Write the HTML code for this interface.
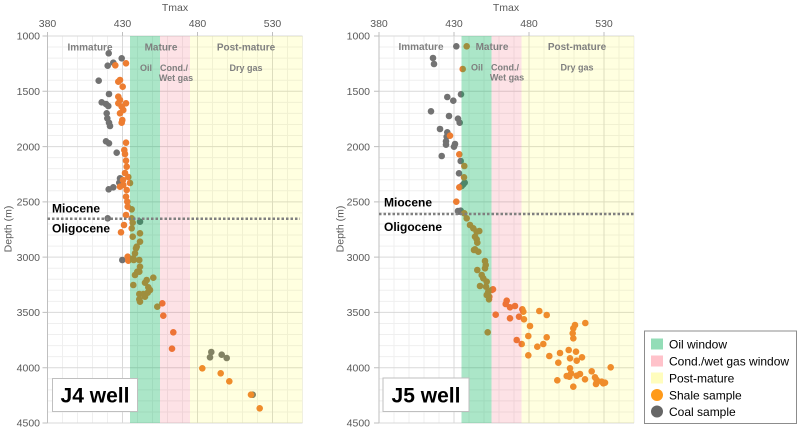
<!DOCTYPE html>
<html>
<head>
<meta charset="utf-8">
<style>
html,body{margin:0;padding:0;background:#fff;}
svg{display:block;font-family:"Liberation Sans",sans-serif;}
.tk{font-size:10.5px;fill:#595959;}
.hd{font-size:10px;font-weight:bold;fill:#7f7f7f;}
.sb{font-size:9px;font-weight:bold;fill:#7f7f7f;}
.ep{font-size:12px;font-weight:bold;fill:#000;}
.wl{font-size:21px;font-weight:bold;fill:#000;}
.lg{font-size:12px;fill:#000;}
</style>
</head>
<body>
<svg width="800" height="428" viewBox="0 0 800 428" xmlns="http://www.w3.org/2000/svg">
<defs>
<g id="grid">
<path d="M15 0V387M30 0V387M45 0V387M60 0V387M90 0V387M105 0V387M120 0V387M135 0V387M165 0V387M180 0V387M195 0V387M210 0V387M240 0V387M255 0V387
M0 11.06H255M0 22.11H255M0 33.17H255M0 44.23H255M0 66.34H255M0 77.4H255M0 88.46H255M0 99.51H255M0 121.63H255M0 132.68H255M0 143.74H255M0 154.8H255M0 176.91H255M0 187.97H255M0 199.03H255M0 210.08H255M0 232.2H255M0 243.25H255M0 254.31H255M0 265.37H255M0 287.48H255M0 298.54H255M0 309.6H255M0 320.65H255M0 342.77H255M0 353.82H255M0 364.88H255M0 375.94H255" stroke="#efefef" stroke-width="1" fill="none"/>
<path d="M75 0V387M150 0V387M225 0V387M0 0H255M0 55.29H255M0 110.57H255M0 165.86H255M0 221.14H255M0 276.43H255M0 331.71H255M0 387H255" stroke="#d9d9d9" stroke-width="1" fill="none"/>
<path d="M0 0V387" stroke="#bfbfbf" stroke-width="1"/>
<path d="M-5 0H0M-5 55.29H0M-5 110.57H0M-5 165.86H0M-5 221.14H0M-5 276.43H0M-5 331.71H0M-5 387H0M0 -4V0M75 -4V0M150 -4V0M225 -4V0" stroke="#bfbfbf" stroke-width="1"/>
</g>
</defs>
<rect width="800" height="428" fill="#fff"/>

<!-- LEFT CHART -->
<use href="#grid" x="47.5" y="36"/>
<g fill="#727272">
<circle cx="108.7" cy="53.3" r="3.3"/><circle cx="121.7" cy="58.3" r="3.3"/><circle cx="107.7" cy="65.7" r="3.3"/><circle cx="113.3" cy="62.7" r="3.3"/><circle cx="98.7" cy="80.7" r="3.3"/><circle cx="109" cy="94" r="3.3"/><circle cx="101.7" cy="102.3" r="3.3"/><circle cx="106" cy="104" r="3.3"/><circle cx="108.3" cy="106" r="3.3"/><circle cx="106.7" cy="113.3" r="3.3"/><circle cx="107.3" cy="118.3" r="3.3"/><circle cx="109" cy="122.7" r="3.3"/><circle cx="110" cy="126" r="3.3"/><circle cx="106" cy="141.3" r="3.3"/><circle cx="109" cy="143.3" r="3.3"/><circle cx="116.7" cy="152.7" r="3.3"/><circle cx="120" cy="178.3" r="3.3"/><circle cx="119.3" cy="182.7" r="3.3"/><circle cx="113.3" cy="187.3" r="3.3"/><circle cx="108.7" cy="189.3" r="3.3"/><circle cx="121" cy="180" r="3.3"/><circle cx="107.7" cy="218.3" r="3.3"/><circle cx="140" cy="221.7" r="3.3"/><circle cx="122.3" cy="260" r="3.3"/><circle cx="211.3" cy="352" r="3.3"/><circle cx="210" cy="357.3" r="3.3"/><circle cx="221.7" cy="354.7" r="3.3"/><circle cx="226.7" cy="358" r="3.3"/><circle cx="252.7" cy="394.7" r="3.3"/>
</g>
<g fill="#ED7D31">
<circle cx="126" cy="63.3" r="3.3"/><circle cx="115.3" cy="65.3" r="3.3"/><circle cx="118.3" cy="81.7" r="3.3"/><circle cx="120" cy="80" r="3.3"/><circle cx="122.7" cy="86.7" r="3.3"/><circle cx="118.3" cy="96.7" r="3.3"/><circle cx="120" cy="100" r="3.3"/><circle cx="118.3" cy="103.3" r="3.3"/><circle cx="121.7" cy="106.7" r="3.3"/><circle cx="126" cy="103.3" r="3.3"/><circle cx="123.3" cy="110" r="3.3"/><circle cx="120" cy="113.3" r="3.3"/><circle cx="122.3" cy="120" r="3.3"/><circle cx="121.7" cy="122.7" r="3.3"/><circle cx="126" cy="142.7" r="3.3"/><circle cx="124.3" cy="150" r="3.3"/><circle cx="125" cy="154" r="3.3"/><circle cx="126" cy="160.7" r="3.3"/><circle cx="126.7" cy="166.7" r="3.3"/><circle cx="125" cy="173" r="3.3"/><circle cx="128.3" cy="177" r="3.3"/><circle cx="123" cy="180" r="3.3"/><circle cx="130" cy="183" r="3.3"/><circle cx="123.3" cy="185" r="3.3"/><circle cx="120" cy="186.7" r="3.3"/><circle cx="126.7" cy="190" r="3.3"/><circle cx="126" cy="196.7" r="3.3"/><circle cx="127.3" cy="201.7" r="3.3"/><circle cx="127.7" cy="206.7" r="3.3"/><circle cx="126" cy="215" r="3.3"/><circle cx="124" cy="225" r="3.3"/><circle cx="121" cy="232.3" r="3.3"/><circle cx="127.7" cy="256.7" r="3.3"/><circle cx="128.3" cy="260.7" r="3.3"/><circle cx="162.3" cy="303.3" r="3.3"/><circle cx="163.3" cy="315.7" r="3.3"/><circle cx="173.3" cy="332.3" r="3.3"/><circle cx="172" cy="348.7" r="3.3"/><circle cx="202.3" cy="368.3" r="3.3"/><circle cx="220.7" cy="373.3" r="3.3"/><circle cx="229.3" cy="381.3" r="3.3"/><circle cx="251" cy="394.7" r="3.3"/><circle cx="259.7" cy="408.3" r="3.3"/>
<circle cx="131.7" cy="209.3" r="3.3"/><circle cx="131.7" cy="218.3" r="3.3"/><circle cx="132.7" cy="222.7" r="3.3"/><circle cx="131.7" cy="228.3" r="3.3"/><circle cx="132.7" cy="236.7" r="3.3"/><circle cx="140" cy="233.3" r="3.3"/><circle cx="140" cy="241.7" r="3.3"/><circle cx="136.7" cy="246.7" r="3.3"/><circle cx="135" cy="253.3" r="3.3"/><circle cx="133.3" cy="258.3" r="3.3"/><circle cx="136" cy="248.3" r="3.3"/><circle cx="139.3" cy="260" r="3.3"/><circle cx="133.7" cy="260" r="3.3"/><circle cx="140" cy="266.7" r="3.3"/><circle cx="137.3" cy="271.7" r="3.3"/><circle cx="135" cy="275" r="3.3"/><circle cx="139.3" cy="271.7" r="3.3"/><circle cx="153.3" cy="277.7" r="3.3"/><circle cx="146.7" cy="280" r="3.3"/><circle cx="145" cy="282.7" r="3.3"/><circle cx="148.3" cy="287.3" r="3.3"/><circle cx="150" cy="290" r="3.3"/><circle cx="147.7" cy="292.7" r="3.3"/><circle cx="143.3" cy="294" r="3.3"/><circle cx="139.3" cy="294" r="3.3"/><circle cx="139.3" cy="299.3" r="3.3"/><circle cx="140" cy="301.7" r="3.3"/><circle cx="145" cy="296.7" r="3.3"/><circle cx="133.3" cy="285" r="3.3"/><circle cx="157.3" cy="306.7" r="3.3"/>
</g>
<rect x="130" y="36" width="30" height="387" fill="rgb(0,179,88)" fill-opacity="0.33"/>
<rect x="160" y="36" width="30" height="387" fill="rgb(242,62,88)" fill-opacity="0.15"/>
<rect x="190" y="36" width="112.5" height="387" fill="rgb(255,255,0)" fill-opacity="0.12"/>
<line x1="47.5" y1="218.7" x2="300" y2="218.7" stroke="#7f7f7f" stroke-width="2.5" stroke-dasharray="2.5 2"/>

<text class="tk" x="175" y="11" text-anchor="middle">Tmax</text>
<g class="tk" text-anchor="middle">
<text x="47.5" y="27">380</text><text x="122.5" y="27">430</text><text x="197.5" y="27">480</text><text x="272.5" y="27">530</text>
</g>
<g class="tk" text-anchor="end">
<text x="40" y="39.7">1000</text><text x="40" y="95">1500</text><text x="40" y="150.3">2000</text><text x="40" y="205.6">2500</text><text x="40" y="260.8">3000</text><text x="40" y="316.1">3500</text><text x="40" y="371.4">4000</text><text x="40" y="426.7">4500</text>
</g>
<text class="tk" transform="translate(11.5,229) rotate(-90)" text-anchor="middle">Depth (m)</text>
<g text-anchor="middle">
<text class="hd" x="90" y="50.5">Immature</text>
<text class="hd" x="161" y="50.5">Mature</text>
<text class="hd" x="246" y="50.5">Post-mature</text>
<text class="sb" x="146" y="71">Oil</text>
<text class="sb" x="174" y="71">Cond./</text>
<text class="sb" x="176" y="81">Wet gas</text>
<text class="sb" x="246" y="71">Dry gas</text>
</g>
<text class="ep" x="52" y="212.5">Miocene</text>
<text class="ep" x="52" y="232.5">Oligocene</text>
<rect x="52.5" y="378.5" width="85" height="33" fill="#fff" stroke="#bfbfbf" stroke-width="1"/>
<text class="wl" x="95" y="402.5" text-anchor="middle">J4 well</text>

<!-- RIGHT CHART -->
<use href="#grid" x="379" y="36"/>
<g fill="#727272">
<circle cx="456.3" cy="46.3" r="3.3"/><circle cx="433" cy="58" r="3.3"/><circle cx="434" cy="64" r="3.3"/><circle cx="461" cy="94.3" r="3.3"/><circle cx="447.3" cy="97" r="3.3"/><circle cx="453.3" cy="100.7" r="3.3"/><circle cx="431" cy="111.3" r="3.3"/><circle cx="449" cy="116" r="3.3"/><circle cx="458" cy="118.7" r="3.3"/><circle cx="459.7" cy="122.7" r="3.3"/><circle cx="440" cy="129" r="3.3"/><circle cx="447.3" cy="132.3" r="3.3"/><circle cx="446.7" cy="136.7" r="3.3"/><circle cx="446" cy="141.3" r="3.3"/><circle cx="446" cy="144.7" r="3.3"/><circle cx="455" cy="144" r="3.3"/><circle cx="454" cy="146.7" r="3.3"/><circle cx="441.7" cy="156" r="3.3"/><circle cx="460.7" cy="161" r="3.3"/><circle cx="459" cy="173.3" r="3.3"/><circle cx="464.7" cy="182.7" r="3.3"/><circle cx="463.3" cy="184.3" r="3.3"/><circle cx="461.7" cy="186" r="3.3"/><circle cx="459" cy="211.7" r="3.3"/><circle cx="460.7" cy="210.7" r="3.3"/><circle cx="458" cy="211" r="3.3"/>
</g>
<g fill="#ED7D31">
<circle cx="466.7" cy="46.3" r="3.3"/><circle cx="462.7" cy="69" r="3.3"/><circle cx="450" cy="135.7" r="3.3"/><circle cx="459.3" cy="154.3" r="3.3"/><circle cx="464.3" cy="166" r="3.3"/><circle cx="464" cy="177.3" r="3.3"/><circle cx="459.3" cy="187.3" r="3.3"/><circle cx="456.3" cy="201.7" r="3.3"/><circle cx="464.3" cy="213.3" r="3.3"/><circle cx="466.7" cy="218.3" r="3.3"/><circle cx="470" cy="225" r="3.3"/><circle cx="473.3" cy="228.3" r="3.3"/><circle cx="476.7" cy="231.7" r="3.3"/><circle cx="479.3" cy="231" r="3.3"/><circle cx="475" cy="236.7" r="3.3"/><circle cx="476.7" cy="239.3" r="3.3"/><circle cx="477.3" cy="242.7" r="3.3"/><circle cx="475" cy="249.3" r="3.3"/><circle cx="478.3" cy="251.7" r="3.3"/><circle cx="474" cy="250" r="3.3"/><circle cx="485" cy="261" r="3.3"/><circle cx="485.7" cy="265" r="3.3"/><circle cx="485" cy="268.3" r="3.3"/><circle cx="477.3" cy="270" r="3.3"/><circle cx="481.7" cy="275" r="3.3"/><circle cx="483.3" cy="278.3" r="3.3"/><circle cx="486.7" cy="281.7" r="3.3"/><circle cx="480" cy="286" r="3.3"/><circle cx="486" cy="286.7" r="3.3"/><circle cx="488.3" cy="291.7" r="3.3"/><circle cx="486.7" cy="295" r="3.3"/><circle cx="489" cy="299.3" r="3.3"/><circle cx="489.3" cy="296.7" r="3.3"/><circle cx="491.7" cy="290" r="3.3"/><circle cx="493" cy="289.3" r="3.3"/><circle cx="487.7" cy="332.3" r="3.3"/>
<circle cx="495.7" cy="314.7" r="3.3"/><circle cx="506.7" cy="300.7" r="3.3"/><circle cx="505.7" cy="304" r="3.3"/><circle cx="510" cy="307.3" r="3.3"/><circle cx="515" cy="306" r="3.3"/><circle cx="510" cy="318.3" r="3.3"/><circle cx="519" cy="316.7" r="3.3"/><circle cx="522.3" cy="309.3" r="3.3"/><circle cx="523.3" cy="311.7" r="3.3"/><circle cx="524" cy="319.3" r="3.3"/><circle cx="539.3" cy="311" r="3.3"/><circle cx="546.7" cy="315" r="3.3"/><circle cx="530" cy="326" r="3.3"/><circle cx="528.3" cy="336" r="3.3"/><circle cx="528.3" cy="355.3" r="3.3"/><circle cx="516.7" cy="340" r="3.3"/><circle cx="521.7" cy="344" r="3.3"/><circle cx="537.3" cy="346.7" r="3.3"/><circle cx="543.3" cy="344" r="3.3"/><circle cx="546.7" cy="337.3" r="3.3"/><circle cx="549.3" cy="356" r="3.3"/><circle cx="558.3" cy="362.7" r="3.3"/><circle cx="560" cy="353" r="3.3"/><circle cx="557.3" cy="380.3" r="3.3"/><circle cx="575" cy="325" r="3.3"/><circle cx="573.3" cy="328.3" r="3.3"/><circle cx="572.7" cy="333.3" r="3.3"/><circle cx="573.3" cy="338.3" r="3.3"/><circle cx="585.3" cy="323" r="3.3"/><circle cx="568.7" cy="350" r="3.3"/><circle cx="570" cy="358.3" r="3.3"/><circle cx="576" cy="351.7" r="3.3"/><circle cx="576.7" cy="360.7" r="3.3"/><circle cx="582" cy="357.3" r="3.3"/><circle cx="570" cy="368.3" r="3.3"/><circle cx="571" cy="373.3" r="3.3"/><circle cx="569.3" cy="376.7" r="3.3"/><circle cx="566.7" cy="376" r="3.3"/><circle cx="573.3" cy="386.7" r="3.3"/><circle cx="576.7" cy="375.7" r="3.3"/><circle cx="580" cy="374" r="3.3"/><circle cx="585" cy="379.3" r="3.3"/><circle cx="591.7" cy="371.3" r="3.3"/><circle cx="595" cy="377.3" r="3.3"/><circle cx="596.7" cy="380" r="3.3"/><circle cx="596" cy="384" r="3.3"/><circle cx="603.3" cy="383.3" r="3.3"/><circle cx="601.7" cy="381.7" r="3.3"/><circle cx="610.7" cy="367.3" r="3.3"/><circle cx="605" cy="382.7" r="3.3"/>
</g>
<rect x="461.5" y="36" width="30" height="387" fill="rgb(0,179,88)" fill-opacity="0.33"/>
<rect x="491.5" y="36" width="30" height="387" fill="rgb(242,62,88)" fill-opacity="0.15"/>
<rect x="521.5" y="36" width="112.5" height="387" fill="rgb(255,255,0)" fill-opacity="0.12"/>
<line x1="379" y1="214" x2="634" y2="214" stroke="#7f7f7f" stroke-width="2.5" stroke-dasharray="2.5 2"/>

<text class="tk" x="506" y="11" text-anchor="middle">Tmax</text>
<g class="tk" text-anchor="middle">
<text x="379" y="27">380</text><text x="454" y="27">430</text><text x="529" y="27">480</text><text x="604" y="27">530</text>
</g>
<g class="tk" text-anchor="end">
<text x="370" y="39.7">1000</text><text x="370" y="95">1500</text><text x="370" y="150.3">2000</text><text x="370" y="205.6">2500</text><text x="370" y="260.8">3000</text><text x="370" y="316.1">3500</text><text x="370" y="371.4">4000</text><text x="370" y="426.7">4500</text>
</g>
<text class="tk" transform="translate(343.5,229) rotate(-90)" text-anchor="middle">Depth (m)</text>
<g text-anchor="middle">
<text class="hd" x="421" y="50">Immature</text>
<text class="hd" x="492" y="50">Mature</text>
<text class="hd" x="577" y="50">Post-mature</text>
<text class="sb" x="477" y="70.5">Oil</text>
<text class="sb" x="505" y="70.5">Cond./</text>
<text class="sb" x="507" y="80.5">Wet gas</text>
<text class="sb" x="577" y="70.5">Dry gas</text>
</g>
<text class="ep" x="384" y="206.5">Miocene</text>
<text class="ep" x="384" y="231">Oligocene</text>
<rect x="383" y="378" width="86" height="33.5" fill="#fff" stroke="#bfbfbf" stroke-width="1"/>
<text class="wl" x="426" y="402.5" text-anchor="middle">J5 well</text>

<!-- LEGEND -->
<rect x="644.5" y="331" width="152" height="92.5" fill="#fff" stroke="#8c8c8c" stroke-width="1"/>
<rect x="651" y="338.5" width="12" height="11" fill="#93DDB7"/>
<rect x="651" y="355.5" width="12" height="11" fill="#FFC2CA"/>
<rect x="651" y="372.5" width="12" height="11" fill="#FFFDBE"/>
<circle cx="657" cy="395" r="6" fill="#FF9A1A"/>
<circle cx="657" cy="411.5" r="6" fill="#666666"/>
<g class="lg">
<text x="669" y="348.3">Oil window</text>
<text x="669" y="365.3">Cond./wet gas window</text>
<text x="669" y="382.3">Post-mature</text>
<text x="669" y="399.3">Shale sample</text>
<text x="669" y="415.8">Coal sample</text>
</g>
</svg>
</body>
</html>
